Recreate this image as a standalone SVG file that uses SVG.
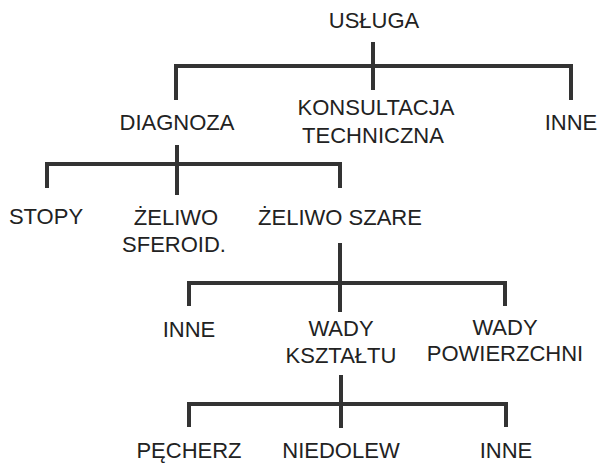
<svg xmlns="http://www.w3.org/2000/svg" width="597" height="466" viewBox="0 0 597 466">
<style>
text{font-family:"Liberation Sans",Arial,sans-serif;font-size:22px;fill:#222;text-anchor:middle}
.c{fill:none;stroke:#333;stroke-width:4;stroke-linejoin:miter;stroke-linecap:butt}
</style>
<rect width="597" height="466" fill="#fff"/>
<g id="connectors">
<path class="c" d="M373 42V90M176 100V66H571V100"/>
<path class="c" d="M177 145V195M47 188V164H340V188"/>
<path class="c" d="M340 243V312M189 306V283H505V306"/>
<path class="c" d="M341 375V428M189 427V404H506V427"/>
</g>
<g id="uslugi"><text x="374" y="28">USŁUGA</text></g>
<g id="diagnoza"><text x="177" y="130">DIAGNOZA</text></g>
<g id="konsultacja"><text x="376" y="115">KONSULTACJA</text><text x="373" y="143">TECHNICZNA</text></g>
<g id="inne1"><text x="571" y="130">INNE</text></g>
<g id="stopy"><text x="46" y="224">STOPY</text></g>
<g id="zeliwo-sferoid"><text x="176" y="225">ŻELIWO</text><text x="174" y="252">SFEROID.</text></g>
<g id="zeliwo-szare"><text x="340" y="225">ŻELIWO SZARE</text></g>
<g id="inne2"><text x="189" y="337">INNE</text></g>
<g id="wady-ksztaltu"><text x="341" y="336">WADY</text><text x="341" y="363">KSZTAŁTU</text></g>
<g id="wady-powierzchni"><text x="505" y="335">WADY</text><text x="505" y="361">POWIERZCHNI</text></g>
<g id="pecherz"><text x="189" y="458">PĘCHERZ</text></g>
<g id="niedolew"><text x="341" y="458">NIEDOLEW</text></g>
<g id="inne3"><text x="506" y="458">INNE</text></g>
</svg>
